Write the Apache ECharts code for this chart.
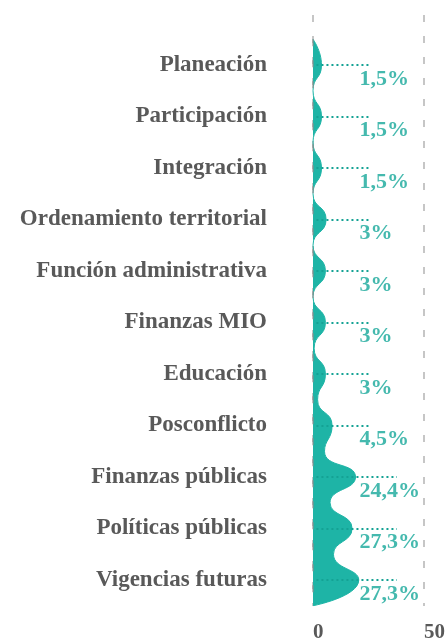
<!DOCTYPE html>
<html><head><meta charset="utf-8">
<script src="https://cdn.jsdelivr.net/npm/echarts@6/dist/echarts.min.js"></script>
<style>html,body{margin:0;padding:0;background:#fff}#c{width:448px;height:643px}</style>
</head><body><div id="c"></div>
<script>
// ---- data ----
const categories = ['Planeación','Participación','Integración','Ordenamiento territorial','Función administrativa','Finanzas MIO','Educación','Posconflicto','Finanzas públicas','Políticas públicas','Vigencias futuras'];
const shares = [1.5, 1.5, 1.5, 3, 3, 3, 3, 4.5, 24.4, 27.3, 27.3];          // % shown in labels
const curvePeaks = [3.7, 3.7, 3.7, 5.7, 5.4, 5.4, 5.4, 8.3, 18.5, 17, 19.9]; // width of the wave at each category
const curveTroughs = [0, 0, 0, 0, 0, 0, 0.5, 2, 5, 7.4, 8.9, 0];           // width of the wave between categories (before first .. after last)
const xTicks = [0, 50];

// ---- build interleaved rows (trough, category, trough, ...) ----
const rowNames = [], rowValues = [];
categories.forEach((c, i) => {
  rowNames.push('gap' + i); rowValues.push(curveTroughs[i]);
  rowNames.push(c); rowValues.push(curvePeaks[i]);
});
rowNames.push('gap' + categories.length); rowValues.push(curveTroughs[categories.length]);

const TEAL = '#1eb4a6', TEAL_TXT = '#16a89a', GRAY = '#595959';
const SERIF = '"Liberation Serif", "DejaVu Serif", serif';
const fmt = v => String(v).replace('.', ',') + '%';

const chart = echarts.init(document.getElementById('c'), null, {renderer: 'canvas'});
chart.setOption({
  animation: false,
  grid: [
    {left: 313, right: 20, top: 39.25, bottom: 37.25},
    {left: 313, right: 20, top: 15, bottom: 31}
  ],
  xAxis: [
    {gridIndex: 0, type: 'value', min: xTicks[0], max: xTicks[1], show: false},
    {gridIndex: 1, type: 'value', min: xTicks[0], max: xTicks[1], interval: xTicks[1] - xTicks[0],
     axisLine: {show: false}, axisTick: {show: false},
     splitLine: {show: true, lineStyle: {color: '#c6c6c6', width: 2, type: [7, 14]}},
     axisLabel: {align: 'left', margin: 16, color: GRAY, fontFamily: SERIF, fontWeight: 'bold', fontSize: 21}}
  ],
  yAxis: [
    {gridIndex: 0, type: 'category', inverse: true, boundaryGap: false, data: rowNames,
     axisLine: {show: false}, axisTick: {show: false}, splitLine: {show: false},
     axisLabel: {interval: (idx) => idx % 2 === 1, margin: 46, color: GRAY,
                 fontFamily: SERIF, fontWeight: 'bold', fontSize: 23}},
    {gridIndex: 1, type: 'value', show: false}
  ],
  series: [
    {type: 'line', xAxisIndex: 0, yAxisIndex: 0, data: rowValues, smooth: 0.55,
     symbol: 'none', lineStyle: {color: TEAL, width: 1}, areaStyle: {color: TEAL, opacity: 1}},
    {type: 'scatter', xAxisIndex: 0, yAxisIndex: 0, symbolSize: 1,
     itemStyle: {color: 'rgba(0,0,0,0)'},
     data: categories.map(c => [20, c]),
     label: {show: true, position: 'right', distance: 0, offset: [0, 14],
             formatter: p => fmt(shares[p.dataIndex]),
             color: TEAL_TXT, fontFamily: SERIF, fontWeight: 'bold', fontSize: 22},
     markLine: {silent: true, symbol: ['none', 'none'], label: {show: false},
       data: [
         {xAxis: 0, lineStyle: {color: 'rgba(140,140,140,0.55)', width: 2, type: [7, 14]}}
       ].concat(categories.map((c, i) => [
         {coord: [1.5, c], lineStyle: {color: '#14a294', width: 2, type: [2, 3]}},
         {coord: [shares[i] > 10 ? 36.5 : 25, c]}
       ]))
     }}
  ]
});
</script></body></html>
